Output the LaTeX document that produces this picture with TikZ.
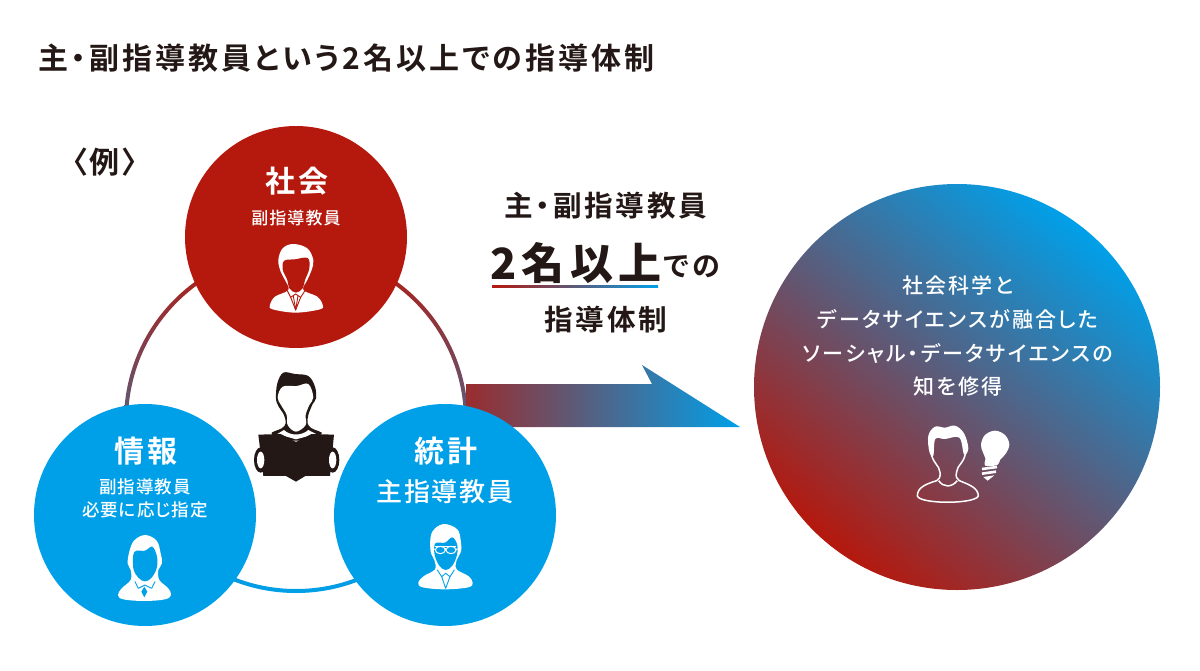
\documentclass[tikz,border=0pt]{standalone}
\usepackage{fontspec}
\setmainfont{Noto Sans CJK JP}[BoldFont={Noto Sans CJK JP Bold},RawFeature={+palt}]
\newfontfamily\jb{Noto Sans CJK JP Bold}[RawFeature={+palt},LetterSpace=10]
\newfontfamily\jk{Noto Sans CJK JP Black}[RawFeature={+palt},LetterSpace=13]
\newfontfamily\jm{Noto Sans CJK JP Medium}[RawFeature={+palt},LetterSpace=6]
\newfontfamily\jn{Noto Sans CJK JP Medium}[RawFeature={+palt},LetterSpace=10.5]
\definecolor{ink}{HTML}{231815}
\definecolor{jred}{HTML}{B5180D}
\definecolor{jblue}{HTML}{00A0E9}
\tikzset{
  ttl/.style={inner sep=0,text=ink,font=\jb\fontsize{30}{30}\selectfont},
  mid/.style={inner sep=0,text=ink,font=\jb\fontsize{28.6}{28.6}\selectfont},
  wht/.style={inner sep=0,text=white,font=\jm\fontsize{17.5}{17.5}\selectfont},
  whb/.style={inner sep=0,text=white,font=\jb\fontsize{30}{30}\selectfont},
  whs/.style={inner sep=0,text=white,font=\jn\fontsize{21}{21}\selectfont},
  disc/.style={circle,inner sep=0,minimum size=222pt},
  zoomed/.style={x=0.3333pt,y=-0.3333pt},
  cut/.style={line width=0.9pt,line cap=round,line join=round},
}
\begin{document}
\begin{tikzpicture}[x=1pt,y=-1pt]
\useasboundingbox (0,0) rectangle (1200,670);
% ring
\coordinate (rc) at (296,421);
\shade[even odd rule,top color=jred,bottom color=jblue] (rc) circle (172) (rc) circle (168);
% arrow
\shade[left color=jred!85!jblue,right color=jblue] (466,384) -- (652,384) -- (642,365) -- (740,427) -- (466,427) -- cycle;
% discs
\node[disc,fill=jred] (soc) at (296,237) {};
\node[disc,fill=jblue] (inf) at (145,515) {};
\node[disc,fill=jblue] (sta) at (445,515) {};
% big circle
\shade[top color=jblue,bottom color=jred,shading angle=-39] (957,387) circle (203);
% texts
\node[ttl,anchor=west] (title) at (38,58) {主・副指導教員という2名以上での指導体制};
\node[ttl] (ex) at (105,162) {〈例〉};
\node[whb] (t1) at (297,181) {社会};
\node[wht,font=\jm\fontsize{17}{17}\selectfont] (t2) at (296,218) {副指導教員};
\node[whb] (t3) at (146,451) {情報};
\node[wht] (t4) at (145,487) {副指導教員};
\node[wht] (t5) at (145,510) {必要に応じ指定};
\node[whb] (t6) at (446,451) {統計};
\node[inner sep=0,text=white,font=\jm\fontsize{26}{26}\selectfont] (t7) at (445,492) {主指導教員};
\node[mid] (m1) at (606,206) {主・副指導教員};
\node[inner sep=0,text=ink,font=\jk\fontsize{43}{43}\selectfont] (m2) at (576,263) {2名以上};
\node[inner sep=0,text=ink,font=\jb\fontsize{28}{28}\selectfont] (m3) at (692,267) {での};
\node[mid] (m4) at (606,320) {指導体制};
\shade[left color=jred,right color=jblue] (492,285) rectangle (658,287.5);
\node[whs] (r1) at (958,285) {社会科学と};
\node[whs] (r2) at (958,319) {データサイエンスが融合した};
\node[whs] (r3) at (958,353) {ソーシャル・データサイエンスの};
\node[whs] (r4) at (958,387) {知を修得};
% man, red disc
\begin{scope}[shift={(230,120)},zoomed]
\fill[white] plot[smooth cycle,tension=.6] coordinates {(190,372)(232,385)(250,420)(245,450)(232,480)(220,510)(262,530)(278,555)(270,568)(197,578)(128,568)(120,555)(135,530)(175,510)(165,480)(152,455)(145,420)(158,385)};
\fill[jred] plot[smooth cycle,tension=.6] coordinates {(163,422)(195,418)(233,414)(238,445)(225,480)(218,505)(198,518)(178,505)(172,480)(158,448)};
\draw[jred,cut] (172,512) -- (182,532) -- (197,522) -- (212,532) -- (225,512);
\draw[jred,cut] (182,532) -- (197,570) -- (212,532);
\draw[jred,cut] (190,528) -- (197,570) -- (204,528);
\end{scope}
% reader
\begin{scope}[shift={(240,360)},zoomed]
\fill[ink] plot[smooth cycle,tension=.6] coordinates {(130,38)(165,42)(205,48)(225,80)(228,115)(218,132)(205,165)(203,190)(215,205)(245,222)(168,242)(95,222)(125,205)(137,190)(132,165)(115,138)(108,115)(112,70)};
\fill[white] plot[smooth cycle,tension=.6] coordinates {(128,80)(170,78)(205,72)(220,112)(208,135)(197,165)(197,195)(168,215)(143,195)(140,165)(123,135)(113,112)};
\fill[white] (112,222) -- (132,210) .. controls (150,228) and (185,228) .. (205,210) -- (228,222) -- (168,238) -- cycle;
\fill[ink] (55,224) -- (122,222) -- (168,246) -- (215,222) -- (282,224) -- (270,348) -- (196,348) -- (168,365) -- (138,348) -- (70,348) -- cycle;
\fill[ink] (62,300) circle[x radius=20,y radius=38];
\fill[ink] (278,300) circle[x radius=20,y radius=38];
\fill[white] (62,300) circle[x radius=11,y radius=25];
\fill[white] (278,300) circle[x radius=11,y radius=25];
\end{scope}
% woman
\begin{scope}[shift={(90,520)},zoomed]
\fill[white] plot[smooth cycle,tension=.6] coordinates {(165,45)(200,62)(212,100)(216,130)(205,150)(208,180)(235,205)(243,225)(225,238)(163,243)(100,238)(84,225)(95,205)(122,180)(122,150)(113,130)(118,95)(132,62)};
\fill[jblue] plot[smooth cycle,tension=.6] coordinates {(133,96)(165,92)(187,80)(201,110)(200,145)(184,174)(165,184)(146,174)(130,145)};
\draw[jblue,cut] (135,185) -- (145,205) -- (165,195) -- (185,205) -- (195,185);
\fill[jblue] (163,200) -- (172,215) -- (163,232) -- (154,215) -- cycle;
\end{scope}
% man with glasses
\begin{scope}[shift={(400,510)},zoomed]
\fill[white] plot[smooth cycle,tension=.6] coordinates {(135,42)(172,58)(182,90)(183,125)(170,150)(170,178)(205,198)(218,218)(205,232)(135,238)(68,232)(55,218)(72,198)(105,178)(103,150)(92,125)(92,80)(105,55)};
\fill[jblue] plot[smooth cycle,tension=.6] coordinates {(106,100)(135,98)(157,82)(172,105)(171,135)(157,167)(137,180)(118,167)(104,135)};
\draw[white,line width=1pt] (121,120) circle[x radius=15,y radius=11] (153,120) circle[x radius=15,y radius=11] (92,115) -- (106,118) (136,116) -- (138,116) (168,118) -- (183,115);
\fill[white] (106,108) rectangle (168,112);
\draw[jblue,cut] (112,180) -- (125,200) -- (137,190) -- (150,200) -- (163,180);
\draw[jblue,cut] (125,200) -- (137,235) -- (150,200);
\end{scope}
% man with bulb
\begin{scope}[shift={(900,415)},zoomed]
\fill[white] plot[smooth cycle,tension=.6] coordinates {(85,62)(105,35)(135,38)(165,32)(192,55)(205,100)(192,118)(178,68)(135,72)(106,72)(100,122)(88,110)};
\draw[white,line width=1.5pt,line join=round] (93,112) .. controls (98,145) and (118,150) .. (120,172) .. controls (121,188) and (118,192) .. (110,197) .. controls (75,208) and (52,218) .. (52,243) .. controls (60,268) and (225,268) .. (235,243) .. controls (235,218) and (205,208) .. (178,197) .. controls (170,192) and (166,185) .. (170,170) .. controls (172,150) and (192,145) .. (197,112);
\draw[white,line width=1.5pt] (116,197) .. controls (130,218) and (155,218) .. (172,197);
\fill[white] plot[smooth cycle,tension=.6] coordinates {(243,88)(255,60)(285,47)(315,60)(328,88)(318,115)(300,135)(292,150)(256,152)(256,130)(248,110)};
\draw[white,line width=2.6pt] (246,162) -- (291,156) (246,176) -- (288,170);
\fill[white] (250,186) -- (283,181) -- (263,197) -- cycle;
\end{scope}
\end{tikzpicture}
\end{document}
